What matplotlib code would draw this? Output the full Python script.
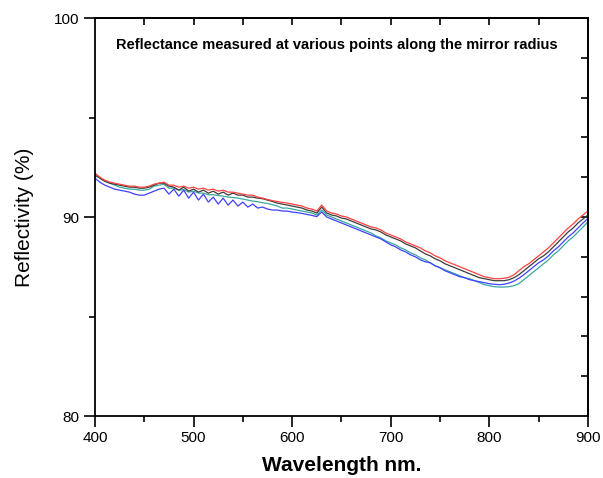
import matplotlib
matplotlib.use("Agg")
import matplotlib.pyplot as plt

plt.rcParams['font.family'] = ['Liberation Sans', 'DejaVu Sans']

wavelength = list(range(400, 905, 5))

red = [92.2, 92.0, 91.85, 91.75, 91.7, 91.65, 91.6, 91.55, 91.55, 91.5,
       91.5, 91.55, 91.65, 91.7, 91.75, 91.6, 91.6, 91.5, 91.55, 91.45,
       91.5, 91.4, 91.45, 91.35, 91.4, 91.3, 91.35, 91.25, 91.25, 91.2,
       91.15, 91.1, 91.1, 91.0, 90.95, 90.88, 90.82, 90.78, 90.74, 90.7,
       90.65, 90.6, 90.55, 90.45, 90.4, 90.3, 90.6, 90.3, 90.2, 90.15,
       90.05, 90.0, 89.9, 89.8, 89.7, 89.6, 89.5, 89.45, 89.35, 89.2,
       89.1, 89.0, 88.9, 88.75, 88.65, 88.55, 88.45, 88.3, 88.2, 88.05,
       87.95, 87.8, 87.7, 87.6, 87.5, 87.4, 87.3, 87.2, 87.1, 87.0,
       86.95, 86.9, 86.9, 86.92, 86.97, 87.1, 87.3, 87.5, 87.65, 87.85,
       88.05, 88.25, 88.45, 88.7, 88.95, 89.2, 89.45, 89.65, 89.9, 90.1,
       90.3]

black = [92.1, 91.95, 91.8, 91.7, 91.65, 91.6, 91.55, 91.5, 91.5, 91.45,
         91.45, 91.5, 91.6, 91.7, 91.7, 91.55, 91.5, 91.35, 91.5, 91.3,
         91.4, 91.25, 91.35, 91.2, 91.3, 91.15, 91.25, 91.1, 91.2, 91.1,
         91.1, 91.0, 91.0, 90.95, 90.92, 90.85, 90.78, 90.7, 90.65, 90.6,
         90.55, 90.5, 90.45, 90.35, 90.3, 90.2, 90.5, 90.2, 90.1, 90.05,
         89.95, 89.9, 89.8, 89.7, 89.6, 89.5, 89.4, 89.35, 89.25, 89.1,
         89.0, 88.9, 88.8, 88.65, 88.55, 88.45, 88.3, 88.15, 88.05, 87.9,
         87.8, 87.65, 87.55, 87.45, 87.35, 87.25, 87.15, 87.05, 86.95, 86.9,
         86.85, 86.8, 86.8, 86.8, 86.85, 86.95, 87.1, 87.3, 87.5, 87.7,
         87.9, 88.05, 88.25, 88.5, 88.75, 89.0, 89.25, 89.45, 89.7, 89.9,
         90.1]

teal = [92.2, 91.95, 91.8, 91.7, 91.6, 91.5, 91.45, 91.4, 91.4, 91.35,
        91.35, 91.4, 91.55, 91.6, 91.65, 91.45, 91.45, 91.35, 91.38, 91.25,
        91.3, 91.2, 91.2, 91.12, 91.12, 91.08, 91.05, 91.0, 90.98, 90.95,
        90.9, 90.85, 90.8, 90.77, 90.72, 90.68, 90.62, 90.55, 90.45, 90.45,
        90.4, 90.35, 90.3, 90.25, 90.2, 90.1, 90.35, 90.1, 90.0, 89.9,
        89.8, 89.7, 89.6, 89.5, 89.4, 89.3, 89.2, 89.05, 88.95, 88.8,
        88.7, 88.6, 88.45, 88.35, 88.2, 88.1, 87.95, 87.85, 87.7, 87.55,
        87.45, 87.35, 87.25, 87.15, 87.05, 86.95, 86.9, 86.8, 86.7, 86.6,
        86.55, 86.5, 86.48, 86.48, 86.5, 86.55, 86.65, 86.85, 87.05, 87.25,
        87.45, 87.65, 87.85, 88.1, 88.3, 88.55, 88.8, 89.0, 89.25, 89.5,
        89.76]

blue = [91.95, 91.75, 91.6, 91.5, 91.4, 91.35, 91.3, 91.25, 91.15, 91.1,
        91.1, 91.2, 91.3, 91.4, 91.45, 91.15, 91.4, 91.05, 91.35, 90.95,
        91.25, 90.85, 91.15, 90.75, 91.0, 90.65, 90.95, 90.6, 90.85, 90.55,
        90.75, 90.5, 90.65, 90.45, 90.5, 90.4, 90.35, 90.35, 90.3, 90.3,
        90.25, 90.22, 90.18, 90.13, 90.08, 90.02, 90.25, 90.0, 89.9, 89.8,
        89.7, 89.6, 89.5, 89.4, 89.3, 89.2, 89.1, 89.0, 88.9, 88.75,
        88.6, 88.5, 88.35, 88.25, 88.1, 88.0, 87.85, 87.75, 87.7, 87.55,
        87.45, 87.3, 87.2, 87.1, 87.0, 86.95, 86.85, 86.8, 86.75, 86.7,
        86.65, 86.62, 86.6, 86.62, 86.68, 86.78, 86.92, 87.1, 87.3, 87.5,
        87.7, 87.85, 88.05, 88.3, 88.5, 88.75, 89.0, 89.2, 89.45, 89.7,
        89.93]

series = [("teal", teal, "#3aa8a0"), ("blue", blue, "#4040ff"),
          ("black", black, "#3c3c3c"), ("red", red, "#ff4040")]

fig = plt.figure(figsize=(6.03, 4.78), dpi=100)
ax = fig.add_axes([0.1575, 0.1297, 0.8175, 0.8326])

for name, vals, col in series:
    ax.plot(wavelength, vals, color=col, lw=0.9)

ax.set_xlim(400, 900)
ax.set_ylim(80, 100)

ax.set_xticks([400, 500, 600, 700, 800, 900])
ax.set_xticks([450, 550, 650, 750, 850], minor=True)
ax.set_yticks([80, 90, 100])
ax.set_yticks([85, 95], minor=True)

ax.tick_params(axis='both', which='major', direction='out', length=8, width=1.2,
               labelsize=11, top=False, right=False)
ax.tick_params(axis='both', which='minor', direction='out', length=4.5, width=1.2,
               top=False, right=False)
ax.tick_params(axis='x', pad=3)

for s in ax.spines.values():
    s.set_linewidth(1.3)

secx = ax.secondary_xaxis('top')
secx.set_xticks([450, 500, 550, 600, 650, 700, 750, 800, 850])
secx.tick_params(direction='in', length=5, width=1.2, labeltop=False)
secx.spines['top'].set_linewidth(1.3)

secy = ax.secondary_yaxis('right')
secy.set_yticks([82, 84, 86, 88, 90, 92, 94, 96, 98])
secy.tick_params(direction='in', length=5, width=1.2, labelright=False)
secy.spines['right'].set_linewidth(1.3)

ax.set_xlabel("Wavelength nm.", fontsize=15, fontweight='bold', labelpad=8)
ax.set_ylabel("Reflectivity (%)", fontsize=15, labelpad=14)

ax.text(0.49, 0.932, "Reflectance measured at various points along the mirror radius",
        transform=ax.transAxes, ha='center', va='center', fontsize=10.5,
        fontweight='bold')

fig.savefig("out.png", dpi=100)
